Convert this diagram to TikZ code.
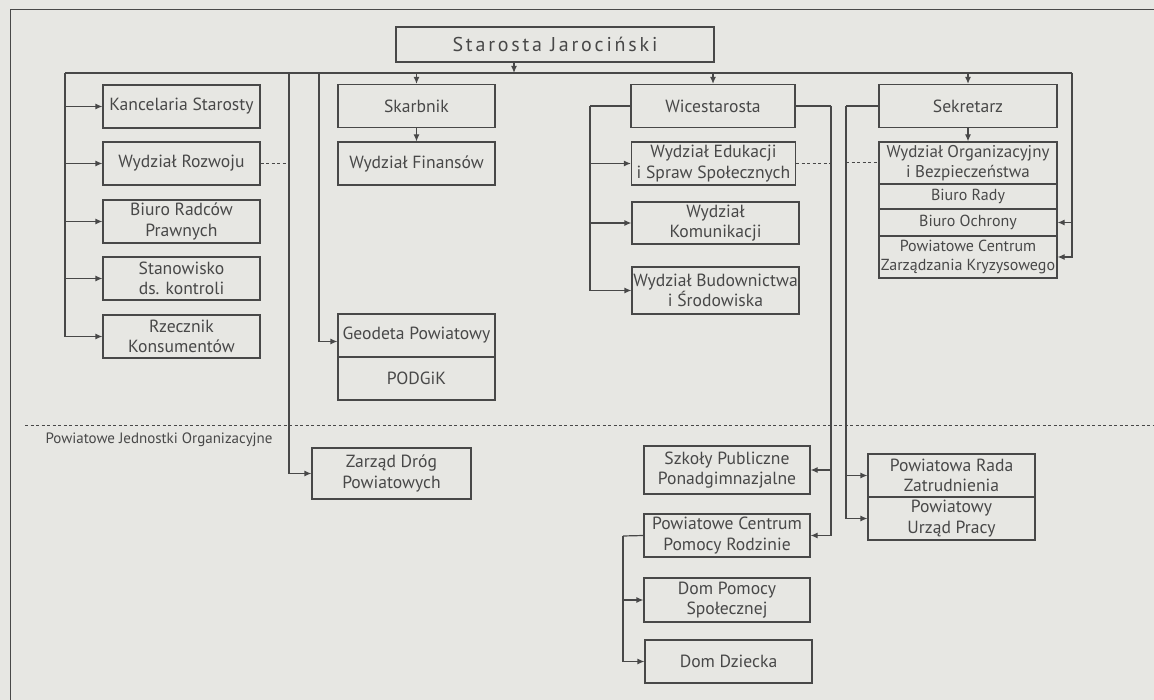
\documentclass[tikz,border=0pt]{standalone}
\usepackage{fontspec}
\setmainfont{PT Sans}
\usetikzlibrary{arrows.meta,calc}
\definecolor{paper}{RGB}{231,231,227}
\definecolor{ink}{RGB}{72,72,72}
\tikzset{
  unit/.style={draw=ink,line width=1.2pt,inner sep=0pt,align=center,text=ink,
    font=\fontsize{17.6}{20.5}\selectfont},
  sub/.style={unit,font=\fontsize{17}{19.5}\selectfont},
  small/.style={unit,font=\fontsize{16}{18.5}\selectfont},
  link/.style={draw=ink,line width=1.2pt},
  arr/.style={link,-{Latex[length=7pt,width=6pt]}},
  hint/.style={draw=ink,line width=1pt,dash pattern=on 3pt off 2.5pt}
}

\begin{document}
\begin{tikzpicture}[x=1pt,y=-1pt]

    % -- Page and paper --
    \useasboundingbox (0,0) rectangle (1154,700);
    \fill[paper] (0,0) rectangle (1154,700);
    \draw[link,line width=1pt] (10,700) -- (10,10) -- (1154,10);

    % -- Head of the county --
    \node[unit,minimum width=318pt,minimum height=35pt,
      font=\fontsize{20}{22}\selectfont\addfontfeature{LetterSpace=14}] (starosta) at (555,44.5) {Starosta Jarociński};

    % -- Main bus below the head --
    \coordinate (busL) at (65,73);
    \coordinate (busR) at (1072,73);
    \coordinate (geoL) at (319,73);
    \coordinate (zdpL) at (289,73);
    \draw[link] (busL) -- (busR);
    \draw[arr] ([xshift=-41pt]starosta.south) -- ([xshift=-41pt]starosta.south |- busL);

    % -- Column 1: offices under the Starosta --
    \node[unit,minimum width=157pt,minimum height=43pt] (kanc) at (181.5,106.5) {Kancelaria Starosty};
    \node[unit,minimum width=157pt,minimum height=43pt] (rozwoj) at (181.5,163.5) {Wydział Rozwoju};
    \node[unit,minimum width=157pt,minimum height=43pt] (radcy) at (181.5,221.5) {Biuro Radców\\Prawnych};
    \node[unit,minimum width=157pt,minimum height=43pt] (kontrola) at (181.5,278.5) {Stanowisko\\ds. kontroli};
    \node[unit,minimum width=157pt,minimum height=43pt] (rzecznik) at (181.5,336.5) {Rzecznik\\Konsumentów};
    \foreach \n in {kanc,rozwoj,radcy,kontrola,rzecznik}
      \draw[arr] (busL) |- (\n.west);

    % -- Column 2: Skarbnik and Geodeta --
    \node[unit,minimum width=157pt,minimum height=43pt] (skarbnik) at (416.5,106) {Skarbnik};
    \node[unit,minimum width=157pt,minimum height=43pt] (finanse) at (416.5,163.5) {Wydział Finansów};
    \node[unit,minimum width=157pt,minimum height=43pt] (geodeta) at (416.5,335.5) {Geodeta Powiatowy};
    \node[unit,minimum width=157pt,minimum height=43pt] (podgik) at (416.5,378.5) {PODGiK};
    \draw[arr] (skarbnik.north |- busL) -- (skarbnik.north);
    \draw[arr] (skarbnik.south) -- (finanse.north);
    \draw[arr] (geoL) |- ([yshift=-6pt]geodeta.west);
    \draw[hint] (rozwoj.east) -- (rozwoj.east -| zdpL);

    % -- Column 3: Wicestarosta --
    \node[unit,minimum width=164pt,minimum height=43pt] (wice) at (713,106) {Wicestarosta};
    \node[unit,minimum width=164pt,minimum height=43pt] (edukacja) at (713.5,163.5) {Wydział Edukacji\\i Spraw Społecznych};
    \node[unit,minimum width=167pt,minimum height=42pt] (komunik) at (715.5,223) {Wydział\\Komunikacji};
    \node[unit,minimum width=167pt,minimum height=47pt] (budown) at (715.5,290.5) {Wydział Budownictwa\\i Środowiska};
    \coordinate (wiceL) at (590,106);
    \coordinate (wiceR) at (831,106);
    \draw[arr] (wice.north |- busL) -- (wice.north);
    \draw[link] (wice.west) -- (wiceL);
    \draw[link] (wice.east) -- (wiceR);
    \foreach \n in {edukacja,komunik,budown}
      \draw[arr] (wiceL) |- (\n.west);
    \draw[hint] (edukacja.east) -- (edukacja.east -| wiceR);

    % -- Column 4: Sekretarz --
    \node[unit,minimum width=178pt,minimum height=43pt] (sekretarz) at (968,106) {Sekretarz};
    \node[sub,minimum width=178pt,minimum height=42pt] (organiz) at (968,163) {Wydział Organizacyjny\\i Bezpieczeństwa};
    \node[small,minimum width=178pt,minimum height=25pt] (rada) at (968,196.5) {Biuro Rady};
    \node[small,minimum width=178pt,minimum height=27pt] (ochrona) at (968,222.5) {Biuro Ochrony};
    \node[small,minimum width=178pt,minimum height=42pt] (kryzys) at (968,257) {Powiatowe Centrum\\Zarządzania Kryzysowego};
    \coordinate (sekrL) at (846,106);
    \draw[arr] (sekretarz.north |- busL) -- (sekretarz.north);
    \draw[arr] (sekretarz.south) -- (organiz.north);
    \draw[arr] (busR) |- (ochrona.east);
    \draw[arr] (busR) |- (kryzys.east);
    \draw[link] (sekretarz.west) -- (sekrL);
    \draw[hint] (organiz.west -| sekrL) -- (organiz.west);

    % -- Dividing line for the county units --
    \draw[hint] (25,426) -- (1154,426);
    \node[anchor=west,text=ink,font=\fontsize{15}{17}\selectfont] (pjo) at (42,440) {Powiatowe Jednostki Organizacyjne};

    % -- County units --
    \node[unit,minimum width=159pt,minimum height=51pt] (drogi) at (391.5,473.5) {Zarząd Dróg\\Powiatowych};
    \node[unit,minimum width=166pt,minimum height=48pt] (szkoly) at (727,470) {Szkoły Publiczne\\Ponadgimnazjalne};
    \node[unit,minimum width=166pt,minimum height=43pt] (pcpr) at (727,535.5) {Powiatowe Centrum\\Pomocy Rodzinie};
    \node[unit,minimum width=166pt,minimum height=44pt] (dps) at (727,600) {Dom Pomocy\\Społecznej};
    \node[unit,minimum width=167pt,minimum height=43pt] (dziecko) at (728.5,661.5) {Dom Dziecka};
    \node[unit,minimum width=167pt,minimum height=43pt] (radazatr) at (951.5,475.5) {Powiatowa Rada\\Zatrudnienia};
    \node[unit,minimum width=167pt,minimum height=43pt] (pup) at (951.5,518.5) {Powiatowy\\Urząd Pracy};
    \coordinate (pcprL) at (623,536);
    \draw[arr] (zdpL) |- (drogi.west);
    \draw[arr] (wiceR) |- (szkoly.east);
    \draw[arr] (wiceR) |- (pcpr.east);
    \draw[arr] (sekrL) |- (radazatr.west);
    \draw[arr] (sekrL) |- (pup.west);
    \draw[link] (pcpr.west) -- (pcprL);
    \draw[arr] (pcprL) |- (dps.west);
    \draw[arr] (pcprL) |- (dziecko.west);

\end{tikzpicture}
\end{document}
